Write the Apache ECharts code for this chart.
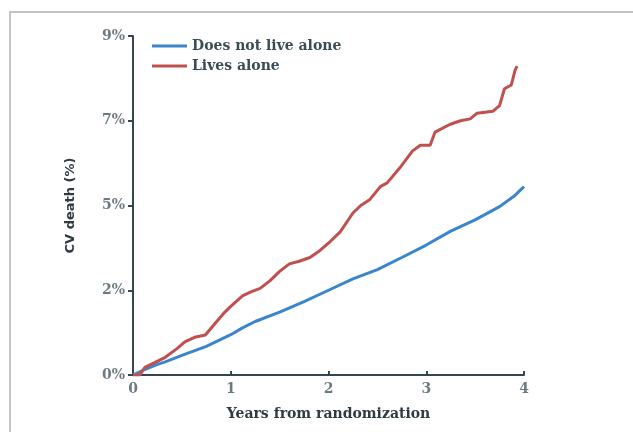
<!DOCTYPE html>
<html>
<head>
<meta charset="utf-8">
<script src="https://cdn.jsdelivr.net/npm/echarts@6/dist/echarts.min.js"></script>
<style>
  html, body { margin: 0; padding: 0; background: #fff; }
  #frame { position: absolute; left: 9px; top: 11px; right: 0; bottom: 0; border-top: 2px solid #c4c4c6; border-left: 2px solid #c4c4c6; }
  #chart { position: absolute; left: 0; top: 0; width: 633px; height: 432px; }
</style>
</head>
<body>
<div id="frame"></div>
<div id="chart"></div>
<script>
// 随访年数 / CV death 累计百分比
var aloneYears = [0, 0.07, 0.12, 0.2, 0.33, 0.45, 0.53, 0.63, 0.74, 0.85, 0.94, 1.0, 1.12, 1.2, 1.3, 1.4, 1.5, 1.6, 1.7, 1.81, 1.91, 2.02, 2.12, 2.25, 2.33, 2.42, 2.53, 2.6, 2.73, 2.86, 2.94, 3.04, 3.09, 3.24, 3.35, 3.45, 3.52, 3.68, 3.75, 3.8, 3.87, 3.89, 3.91, 3.93];
var aloneDeath = [0, 0, 0.2, 0.3, 0.47, 0.7, 0.88, 1.0, 1.06, 1.4, 1.67, 1.82, 2.1, 2.2, 2.3, 2.5, 2.75, 2.95, 3.02, 3.12, 3.3, 3.55, 3.8, 4.3, 4.5, 4.65, 5.0, 5.1, 5.5, 5.95, 6.1, 6.1, 6.45, 6.65, 6.75, 6.8, 6.95, 7.0, 7.15, 7.6, 7.7, 7.75, 8.1, 8.2];
var notAloneYears = [0, 0.1, 0.25, 0.33, 0.5, 0.75, 1.0, 1.12, 1.25, 1.5, 1.75, 2.0, 2.25, 2.5, 2.75, 3.0, 3.25, 3.5, 3.75, 3.9, 3.96, 4.0];
var notAloneDeath = [0, 0.12, 0.28, 0.35, 0.52, 0.76, 1.07, 1.25, 1.42, 1.67, 1.95, 2.25, 2.55, 2.8, 3.12, 3.45, 3.82, 4.12, 4.47, 4.75, 4.9, 5.0];
var seriesNames = ['Does not live alone', 'Lives alone'];

function pairs(xs, ys) {
    var out = [];
    for (var i = 0; i < xs.length; i++) {
        out.push([xs[i], ys[i]]);
    }
    return out;
}

var myChart = echarts.init(document.getElementById('chart'));
var axisColor = '#34474f';
var labelFont = 'DejaVu Serif';
var option = {
    animation: false,
    color: ['#3a85cc', '#c0504d'],
    grid: { left: 133, right: 109, top: 36, bottom: 57 },
    legend: {
        orient: 'vertical',
        left: 147,
        top: 34,
        itemWidth: 35,
        itemHeight: 3,
        itemGap: 6,
        icon: 'rect',
        textStyle: { fontFamily: labelFont, fontWeight: 'bold', fontSize: 14, color: '#3a4d55' },
        data: seriesNames
    },
    xAxis: {
        type: 'value',
        min: 0,
        max: 4,
        interval: 1,
        name: 'Years from randomization',
        nameLocation: 'middle',
        nameGap: 32,
        nameTextStyle: { fontFamily: labelFont, fontWeight: 'bold', fontSize: 14, color: '#2e3b40' },
        axisLine: { lineStyle: { color: axisColor, width: 2 } },
        axisTick: { show: true, inside: true, length: 4, lineStyle: { color: axisColor, width: 2 } },
        axisLabel: { fontFamily: labelFont, fontWeight: 'bold', fontSize: 14, color: '#6d7a80', margin: 7 },
        splitLine: { show: false }
    },
    yAxis: {
        type: 'value',
        min: 0,
        max: 9,
        interval: 2.25,
        name: 'CV death (%)',
        nameLocation: 'middle',
        nameGap: 56,
        nameTextStyle: { fontFamily: 'DejaVu Sans', fontWeight: 'bold', fontSize: 13, color: '#2e3b40' },
        axisLine: { show: true, lineStyle: { color: axisColor, width: 2 } },
        axisTick: { show: true, length: 5, lineStyle: { color: axisColor, width: 2 } },
        axisLabel: {
            fontFamily: labelFont, fontWeight: 'bold', fontSize: 14, color: '#6d7a80', margin: 8,
            formatter: function (v) { return Math.round(v) + '%'; }
        },
        splitLine: { show: false }
    },
    series: [
        {
            name: seriesNames[0],
            type: 'line',
            showSymbol: false,
            lineStyle: { width: 3 },
            data: pairs(notAloneYears, notAloneDeath)
        },
        {
            name: seriesNames[1],
            type: 'line',
            showSymbol: false,
            lineStyle: { width: 3 },
            data: pairs(aloneYears, aloneDeath)
        }
    ]
};
option && myChart.setOption(option);
</script>
</body>
</html>
